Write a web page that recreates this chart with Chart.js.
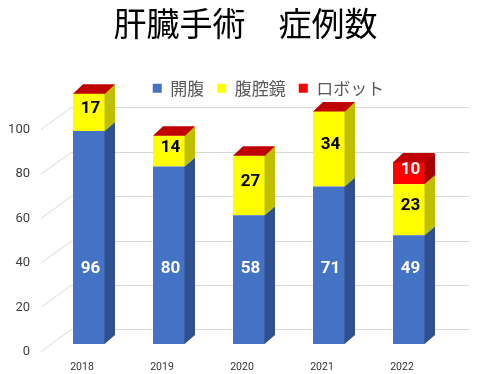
<!DOCTYPE html>
<html><head><meta charset="utf-8">
<script src="https://cdn.jsdelivr.net/npm/chart.js@4.4.1/dist/chart.umd.min.js"></script>
<style>html,body{margin:0;padding:0;background:#fff;}</style>
</head><body>
<canvas id="c" width="485" height="374" style="width:485px;height:374px;display:block"></canvas>
<script>
// ---- data ----
const categories = ['2018', '2019', '2020', '2021', '2022'];
const seriesNames = ['開腹', '腹腔鏡', 'ロボット'];
const openSurgery = [96, 80, 58, 71, 49];
const laparoscopic = [17, 14, 27, 34, 23];
const robotic = [0, 0, 0, 0, 10];
const yTickStep = 20;
const yMax = 100;
const titleText = '肝臓手術　症例数';

// ---- styles ----
const frontColors = ['#4472C4', '#FFFF00', '#FF0000'];
const sideColors = ['#2F528F', '#BFBF00', '#A80000'];
const topColor = '#C00000';
const labelColors = ['#FFFFFF', '#000000', '#FFFFFF'];
const gridColor = '#D9D9D9';
const DX = 10, DY = -9;            // bar depth
const baseLabelLevel = 34;          // height where first-series labels sit
const CJK = "'Noto Sans CJK JP', 'Noto Sans', sans-serif";

const spacer = {
  id: 'spacer',
  beforeInit(chart) {
    Chart.layouts.addBox(chart, {
      position: 'top', weight: -10, fullSize: true, options: {},
      width: 0, height: 0, top: 0, left: 0, right: 0, bottom: 0,
      isHorizontal() { return true; },
      update(maxWidth) { this.width = maxWidth; this.height = 15.3; },
      draw() {}
    });
  }
};

const shiftBlocks = {
  id: 'shiftBlocks',
  afterLayout(chart) {
    if (chart.legend) { chart.legend.left += 40; chart.legend.right += 40; }
    if (chart.titleBlock) { chart.titleBlock.left += 17; chart.titleBlock.right += 17; }
  }
};

const threeD = {
  id: 'threeD',
  beforeDatasetsDraw(chart) {
    const ctx = chart.ctx, ys = chart.scales.y, a = chart.chartArea;
    ctx.save();
    ctx.strokeStyle = gridColor;
    ctx.lineWidth = 1;
    ys.ticks.forEach(t => {
      const y = ys.getPixelForValue(t.value);
      const yb = Math.round(y - 14.7) + 0.5;
      ctx.beginPath();
      ctx.moveTo(a.left - 8, y + 7.7);
      ctx.lineTo(a.left + 22, yb);
      ctx.lineTo(a.right + 20, yb);
      ctx.stroke();
    });
    ctx.restore();
  },
  afterDatasetsDraw(chart) {
    const ctx = chart.ctx;
    ctx.save();
    const n = chart.data.datasets.length;
    chart.data.datasets.forEach((ds, di) => {
      const meta = chart.getDatasetMeta(di);
      meta.data.forEach(el => {
        const p = el.getProps(['x', 'y', 'base', 'width'], true);
        const top = Math.min(p.y, p.base), bot = Math.max(p.y, p.base);
        if (bot - top < 0.01) return;
        const r = p.x + p.width / 2;
        ctx.fillStyle = sideColors[di];
        ctx.beginPath();
        ctx.moveTo(r - 0.5, top);
        ctx.lineTo(r + DX, top + DY);
        ctx.lineTo(r + DX, bot + DY);
        ctx.lineTo(r - 0.5, bot);
        ctx.closePath();
        ctx.fill();
      });
    });
    // top faces
    const last = chart.getDatasetMeta(n - 1);
    last.data.forEach(el => {
      const p = el.getProps(['x', 'y', 'base', 'width'], true);
      const top = Math.min(p.y, p.base);
      const l = p.x - p.width / 2, r = p.x + p.width / 2;
      ctx.fillStyle = topColor;
      ctx.beginPath();
      ctx.moveTo(l, top + 0.5);
      ctx.lineTo(l + DX, top + DY);
      ctx.lineTo(r + DX, top + DY);
      ctx.lineTo(r, top + 0.5);
      ctx.closePath();
      ctx.fill();
    });
    // value labels
    const ys = chart.scales.y;
    ctx.font = "bold 17px Roboto, 'Noto Sans', sans-serif";
    ctx.textAlign = 'center';
    ctx.textBaseline = 'middle';
    chart.data.datasets.forEach((ds, di) => {
      const meta = chart.getDatasetMeta(di);
      meta.data.forEach((el, i) => {
        const v = ds.data[i];
        if (!v) return;
        const p = el.getProps(['x', 'y', 'base'], true);
        const y = di === 0 ? ys.getPixelForValue(baseLabelLevel) : (p.y + p.base) / 2 - 3.5;
        ctx.fillStyle = labelColors[di];
        ctx.fillText(String(v), p.x + 1.5, y);
      });
    });
    ctx.restore();
  }
};

const seriesData = [openSurgery, laparoscopic, robotic];
new Chart(document.getElementById('c'), {
  type: 'bar',
  data: {
    labels: categories,
    datasets: seriesData.map((d, i) => ({
      label: seriesNames[i],
      data: d,
      backgroundColor: frontColors[i],
      borderWidth: 0,
      clip: false,
      barPercentage: 0.4,
      categoryPercentage: 1.0
    }))
  },
  options: {
    responsive: false,
    devicePixelRatio: 1,
    animation: false,
    events: [],
    layout: { padding: { left: 8, right: 36, top: 0, bottom: 0 } },
    plugins: {
      tooltip: { enabled: false },
      title: {
        display: true, text: titleText, color: '#000000',
        font: { family: CJK, size: 33, weight: 'normal', lineHeight: 1.2 },
        padding: { top: 4, bottom: 23.1 }
      },
      legend: {
        display: true, position: 'top',
        labels: {
          boxWidth: 9, boxHeight: 9, padding: 13, color: '#595959',
          font: { family: CJK, size: 17 }
        }
      }
    },
    scales: {
      x: {
        stacked: true,
        grid: { display: false, drawTicks: false },
        border: { display: false },
        afterFit: (s) => { s.height = 30; },
        ticks: { color: '#333333', padding: 17.4, labelOffset: -7,
          font: { family: "Roboto, 'Noto Sans', sans-serif", size: 10.5 } }
      },
      y: {
        stacked: true, min: 0, max: yMax,
        grid: { display: false, drawTicks: false },
        border: { display: false },
        afterFit: (s) => { s.width = 41; },
        ticks: { stepSize: yTickStep, color: '#404040', padding: 19, labelOffset: 7.7,
          font: { family: "Roboto, 'Noto Sans', sans-serif", size: 13 } }
      }
    }
  },
  plugins: [spacer, shiftBlocks, threeD]
});
</script>
</body></html>
